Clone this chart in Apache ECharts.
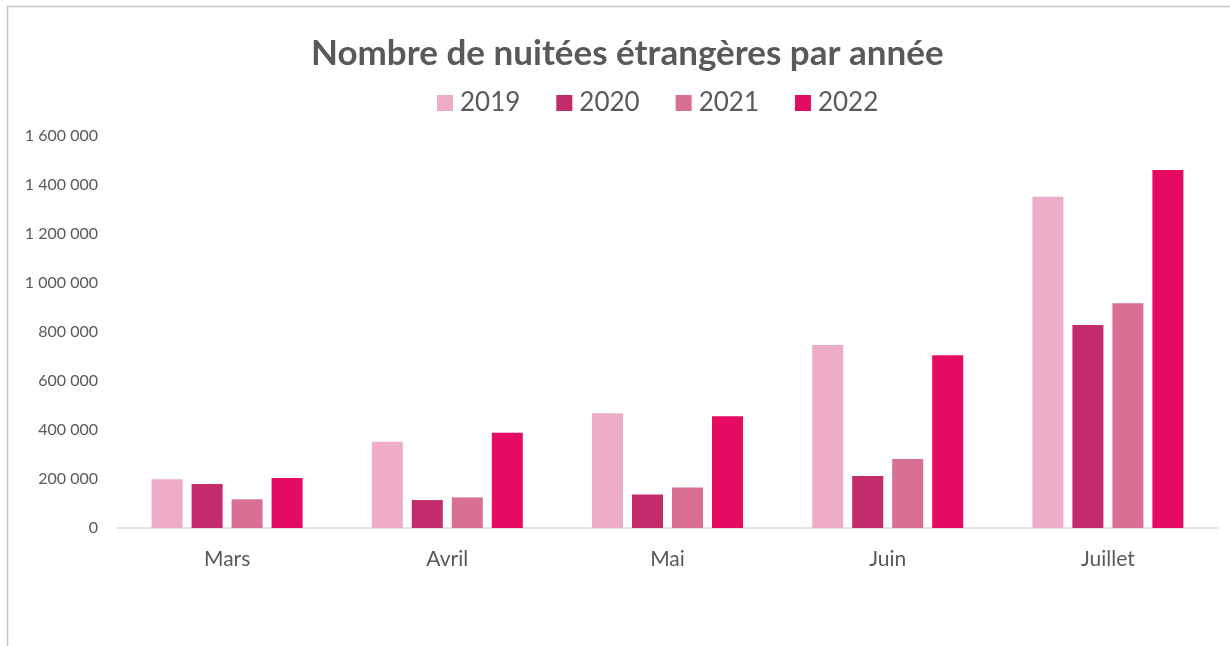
<!DOCTYPE html>
<html>
<head>
<meta charset="utf-8">
<script src="https://cdn.jsdelivr.net/npm/echarts@6/dist/echarts.min.js"></script>
<style>
  html, body { margin: 0; padding: 0; background: #fff; }
  #main { width: 1230px; height: 646px; }
</style>
</head>
<body>
<div id="main"></div>
<script>
var months = ['Mars', 'Avril', 'Mai', 'Juin', 'Juillet'];
var years = ['2019', '2020', '2021', '2022'];
var v2019 = [199000, 352000, 468000, 747000, 1352000];
var v2020 = [180000, 114000, 137000, 212000, 829000];
var v2021 = [117000, 125000, 165000, 282000, 917000];
var v2022 = [204000, 389000, 456000, 705000, 1461000];
var colors = ['#EDADC8', '#C42B6C', '#D96F93', '#E50A62'];

var myChart = echarts.init(document.getElementById('main'));

function fmt(v) {
    return String(v).replace(/\B(?=(\d{3})+(?!\d))/g, ' ');
}

function bar(name, data, i) {
    return {
        name: name,
        type: 'bar',
        data: data,
        barWidth: 31,
        barGap: '29%',
        itemStyle: { color: colors[i] }
    };
}

myChart.setOption({
    backgroundColor: '#fff',
    textStyle: { fontFamily: 'Lato' },
    graphic: [{
        type: 'rect',
        shape: { x: 7.5, y: 6.5, width: 1400, height: 800 },
        style: { fill: 'none', stroke: '#c6c6c6', lineWidth: 1.5 },
        silent: true
    }],
    title: {
        text: 'Nombre de nuitées étrangères par année',
        left: 306,
        top: 31,
        textStyle: { color: '#595959', fontSize: 35, fontWeight: 'bold', fontFamily: 'Lato' }
    },
    legend: {
        data: years,
        top: 85,
        left: 432,
        itemWidth: 16,
        itemHeight: 16,
        itemGap: 36,
        icon: 'rect',
        textStyle: { color: '#595959', fontSize: 26, fontFamily: 'Lato', padding: [0, 0, 0, 2] }
    },
    grid: { left: 117, right: 12, top: 136, bottom: 118 },
    xAxis: {
        type: 'category',
        data: months,
        axisTick: { show: false },
        axisLine: { lineStyle: { color: '#d9d9d9', width: 1.5 } },
        axisLabel: { color: '#595959', fontSize: 21, margin: 21 }
    },
    yAxis: {
        type: 'value',
        min: 0,
        max: 1600000,
        interval: 200000,
        splitLine: { show: false },
        axisLine: { show: false },
        axisTick: { show: false },
        axisLabel: { color: '#595959', fontSize: 16, margin: 19, formatter: fmt }
    },
    series: [
        bar('2019', v2019, 0),
        bar('2020', v2020, 1),
        bar('2021', v2021, 2),
        bar('2022', v2022, 3)
    ]
});
</script>
</body>
</html>
